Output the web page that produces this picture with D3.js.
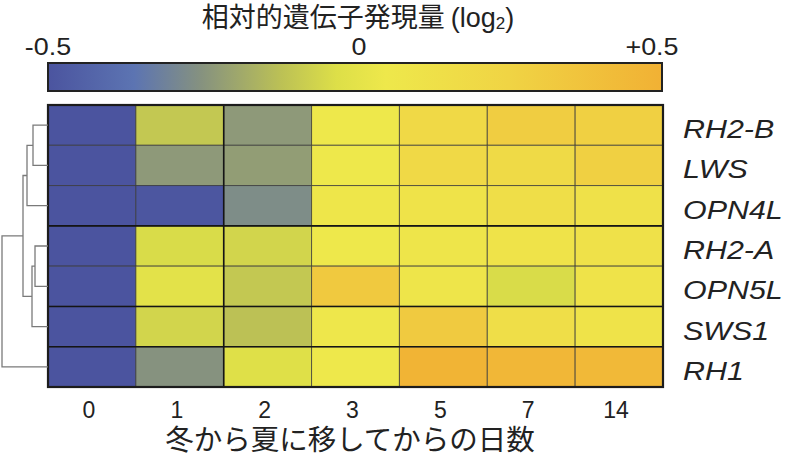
<!DOCTYPE html>
<html>
<head>
<meta charset="utf-8">
<script src="https://d3js.org/d3.v7.min.js"></script>
<style>
  body { margin: 0; background: #ffffff; }
  text { fill: #222222; font-family: "Liberation Sans", Arial, "Noto Sans CJK JP", sans-serif; }
  text.jp { font-family: "Noto Sans CJK JP", "Liberation Sans", sans-serif; }
</style>
</head>
<body>
<div id="chart"></div>
<script>
// data
const genes = ["RH2-B", "LWS", "OPN4L", "RH2-A", "OPN5L", "SWS1", "RH1"];
const days = ["0", "1", "2", "3", "5", "7", "14"];
// relative expression (log2), one row per gene, one value per day
const RH2B  = [-0.5, -0.10, -0.23, 0.05, 0.20, 0.30, 0.28];
const LWS   = [-0.5, -0.23, -0.22, 0.05, 0.20, 0.19, 0.28];
const OPN4L = [-0.5, -0.49, -0.27, 0.07, 0.10, 0.15, 0.12];
const RH2A  = [-0.5, -0.04, -0.06, 0.05, 0.08, 0.10, 0.12];
const OPN5L = [-0.5,  0.00, -0.10, 0.33, 0.08, -0.04, 0.10];
const SWS1  = [-0.5, -0.06, -0.12, 0.06, 0.32, 0.15, 0.10];
const RH1   = [-0.5, -0.25, -0.02, 0.05, 0.48, 0.46, 0.44];
const values = [RH2B, LWS, OPN4L, RH2A, OPN5L, SWS1, RH1];
// dendrogram: [child a, child b, height]; leaves are 0..6, new nodes 7..
const merges = [[0, 1, 15], [7, 2, 21], [3, 4, 13], [9, 5, 16], [8, 10, 25], [11, 6, 46]];
const colorTicks = ["-0.5", "0", "+0.5"];
const colorDomain = [-0.5, -0.36, -0.25, -0.12, -0.03, 0.05, 0.25, 0.5];
const colorRange = ["#4b549f", "#5c74b2", "#86927f", "#bcc155", "#dddf48", "#eee84b", "#f0d444", "#f1b134"];

const width = 791, height = 474;
const svg = d3.select("#chart").append("svg")
  .attr("width", width).attr("height", height);

const hm = {left: 48, right: 663, top: 105, bottom: 387};

const x = d3.scaleBand().domain(days).range([hm.left, hm.right]);
const y = d3.scaleBand().domain(genes).range([hm.top, hm.bottom]);
const color = d3.scaleLinear().domain(colorDomain).range(colorRange).clamp(true);

// cells
const cells = [];
values.forEach((row, i) => row.forEach((v, j) => cells.push({gene: genes[i], day: days[j], v: v})));
svg.append("g").selectAll("rect")
  .data(cells)
  .join("rect")
    .attr("x", d => x(d.day))
    .attr("y", d => y(d.gene))
    .attr("width", x.bandwidth())
    .attr("height", y.bandwidth())
    .attr("fill", d => color(d.v))
    .attr("stroke", "#3a3a3a")
    .attr("stroke-opacity", 0.75)
    .attr("stroke-width", 1);

// heavier cluster separators
const sep = svg.append("g").attr("stroke", "#151515").attr("stroke-width", 1.6);
["RH2-A", "SWS1", "RH1"].forEach(g => {
  sep.append("line").attr("x1", hm.left).attr("x2", hm.right).attr("y1", y(g)).attr("y2", y(g));
});
sep.append("line").attr("x1", x("2")).attr("x2", x("2")).attr("y1", hm.top).attr("y2", hm.bottom);

// border
svg.append("rect")
  .attr("x", hm.left).attr("y", hm.top)
  .attr("width", hm.right - hm.left).attr("height", hm.bottom - hm.top)
  .attr("fill", "none").attr("stroke", "#1c1c1c").attr("stroke-width", 2.2);

// dendrogram
const dx = d3.scaleLinear().domain([0, 46]).range([hm.left, 2]);
const nodeY = genes.map(g => y(g) + y.bandwidth() / 2);
const nodeH = genes.map(() => 0);
const dendro = svg.append("g").attr("stroke", "#7a7a7a").attr("stroke-width", 1.3).attr("fill", "none");
merges.forEach(m => {
  const [a, b, h] = m;
  const xm = dx(h);
  dendro.append("path")
    .attr("d", `M${dx(nodeH[a])},${nodeY[a]}H${xm}V${nodeY[b]}H${dx(nodeH[b])}`);
  nodeY.push((nodeY[a] + nodeY[b]) / 2);
  nodeH.push(h);
});

// gene labels (italic)
svg.append("g").selectAll("text")
  .data(genes)
  .join("text")
    .attr("transform", d => `translate(683,${y(d) + y.bandwidth() / 2 + 13}) scale(1.17,1)`)
    .style("font-size", "26px")
    .style("font-style", "italic")
    .text(d => d);

// day labels
svg.append("g").selectAll("text")
  .data(days)
  .join("text")
    .attr("x", d => x(d) + x.bandwidth() / 2 - 3)
    .attr("y", 418)
    .attr("text-anchor", "middle")
    .style("font-size", "23px")
    .text(d => d);

svg.append("text")
  .attr("class", "jp")
  .attr("x", 350).attr("y", 450)
  .attr("text-anchor", "middle")
  .style("font-size", "28.5px")
  .text("冬から夏に移してからの日数");

// colour bar
const cb = {left: 48, right: 662, top: 63, bottom: 91};
const grad = svg.append("defs").append("linearGradient").attr("id", "cbar");
const cbScale = d3.scaleLinear().domain([-0.5, 0.5]).range([0, 100]);
colorDomain.forEach((v, i) => {
  grad.append("stop").attr("offset", cbScale(v) + "%").attr("stop-color", colorRange[i]);
});
svg.append("rect")
  .attr("x", cb.left).attr("y", cb.top)
  .attr("width", cb.right - cb.left).attr("height", cb.bottom - cb.top)
  .attr("fill", "url(#cbar)")
  .attr("stroke", "#222").attr("stroke-width", 2);

const cbx = d3.scaleLinear().domain([-0.5, 0.5]).range([cb.left, cb.right]);
svg.append("g").selectAll("text")
  .data(colorTicks)
  .join("text")
    .attr("transform", (d, i) => `translate(${cbx(+d) + [0, 4, -10][i]},55) scale(1.12,1)`)
    .attr("text-anchor", "middle")
    .style("font-size", "24px")
    .text(d => d);

const title = svg.append("text")
  .attr("class", "jp")
  .attr("x", 358).attr("y", 27)
  .attr("text-anchor", "middle")
  .style("font-size", "27px");
title.append("tspan").text("相対的遺伝子発現量 ");
title.append("tspan").style("font-family", "Liberation Sans").text("(log");
title.append("tspan").style("font-family", "Liberation Sans").style("font-size", "17px").attr("dy", 2).text("2");
title.append("tspan").style("font-family", "Liberation Sans").attr("dy", -2).text(")");
</script>
</body>
</html>
